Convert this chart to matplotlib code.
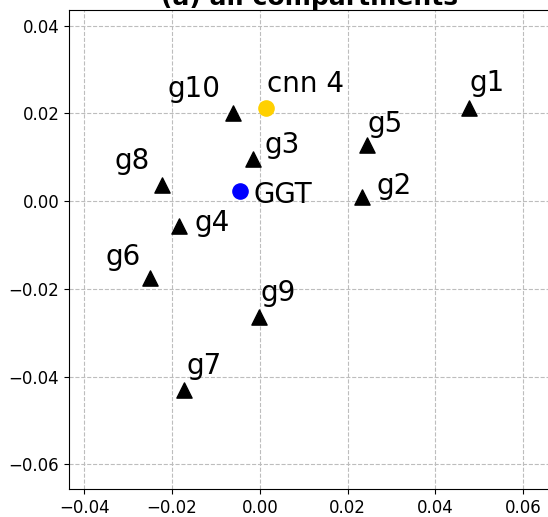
import matplotlib
matplotlib.use("Agg")
import matplotlib.pyplot as plt

# data
g_names = ["g1", "g2", "g3", "g4", "g5", "g6", "g7", "g8", "g9", "g10"]
g_x = [0.0476, 0.0233, -0.0015, -0.0185, 0.0243, -0.0251, -0.0172, -0.0223, -0.0002, -0.0061]
g_y = [0.0212, 0.0010, 0.0097, -0.0057, 0.0129, -0.0175, -0.0431, 0.0036, -0.0264, 0.0201]
ggt_name = "GGT"
ggt_x = [-0.0046]
ggt_y = [0.0024]
cnn_name = "cnn 4"
cnn_x = [0.0013]
cnn_y = [0.0213]
x_ticks = [-0.04, -0.02, 0.00, 0.02, 0.04, 0.06]
y_ticks = [-0.06, -0.04, -0.02, 0.00, 0.02, 0.04]

# label offsets in pixels (layout)
g_offsets = [(1, 17), (14, 3), (11, 6), (16, -5), (1, 13), (-44, 13), (2, 16), (-48, 16), (1, 16), (-66, 16)]
ggt_offset = (14, -12)
cnn_offset = (1, 16)

fig = plt.figure(figsize=(5.48, 5.17), dpi=100)
ax = fig.add_axes([69 / 548, (517 - 489.3) / 517, 480.5 / 548, 479.3 / 517])

ax.grid(True, linestyle="--", color="#bdbdbd", linewidth=0.8, zorder=0)
ax.scatter(g_x, g_y, marker="^", s=120, color="black", zorder=3)
ax.scatter(ggt_x, ggt_y, marker="o", s=120, color="blue", zorder=3)
ax.scatter(cnn_x, cnn_y, marker="o", s=120, color="#FFD000", zorder=3)

fs = 20
for name, x, y, off in zip(g_names, g_x, g_y, g_offsets):
    ax.annotate(name, (x, y), xytext=off, textcoords="offset pixels",
                ha="left", va="baseline", fontsize=fs)
ax.annotate(ggt_name, (ggt_x[0], ggt_y[0]), xytext=ggt_offset, textcoords="offset pixels",
            ha="left", va="baseline", fontsize=fs)
ax.annotate(cnn_name, (cnn_x[0], cnn_y[0]), xytext=cnn_offset, textcoords="offset pixels",
            ha="left", va="baseline", fontsize=fs)

ax.set_xlim(-0.0435, 0.0660)
ax.set_ylim(-0.0657, 0.0436)
ax.set_xticks(x_ticks)
ax.set_yticks(y_ticks)
ax.set_xticklabels([f"{v:.2f}".replace("-", "\u2212") for v in x_ticks])
ax.set_yticklabels([f"{v:.2f}".replace("-", "\u2212") for v in y_ticks])
ax.tick_params(labelsize=12)
ax.set_title("(a) all compartments", fontsize=18, fontweight="bold", pad=2)

fig.savefig("out.png", dpi=100)
